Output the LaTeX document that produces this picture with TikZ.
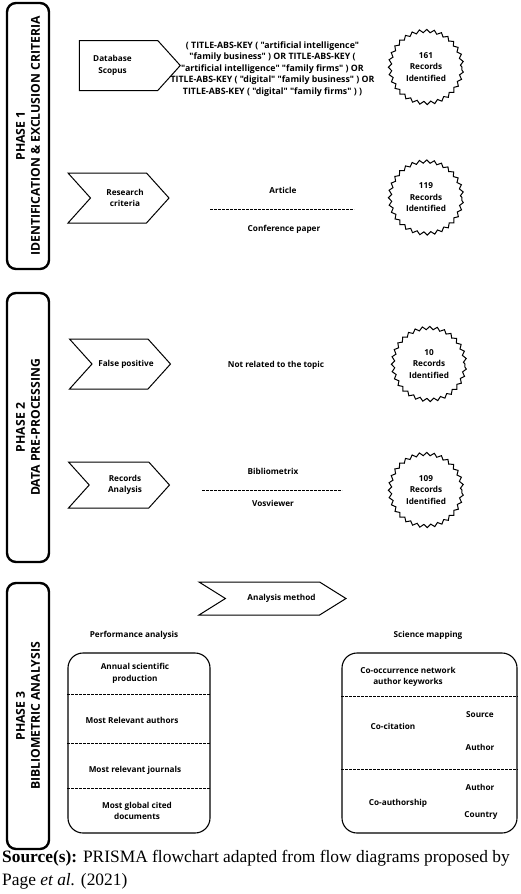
\documentclass[tikz,border=0pt]{standalone}
\usepackage{fontspec}
\setmainfont{Liberation Serif}
\newfontfamily\opensans{Open Sans}
\usetikzlibrary{shapes.symbols,decorations.pathmorphing}

\tikzset{
  lbl/.style={font=\opensans\bfseries\fontsize{8.2}{11.5}\selectfont, align=center, inner sep=0pt},
  phase/.style={draw, line width=2.4pt, rounded corners=9pt, rotate=90, minimum height=42pt,
    align=center, inner sep=0pt, font=\opensans\bfseries\fontsize{12.2}{15}\selectfont},
  tag/.style={lbl, draw, line width=1pt, signal, signal to=east, signal pointer angle=96,
    minimum height=50pt, minimum width=101pt},
  chev/.style={tag, signal from=west},
  burst/.style={lbl, draw, circle, line width=1pt, minimum size=72pt,
    decorate, decoration={zigzag, segment length=7.2pt, amplitude=1.6pt}},
  panel/.style={draw, line width=1.1pt, rounded corners=15pt, minimum height=180pt},
  sep/.style={line width=0.9pt, dash pattern=on 2.6pt off 1.4pt},
  srcnote/.style={anchor=base west, inner sep=0pt, font=\fontsize{17.4}{23}\selectfont}
}

\begin{document}
\begin{tikzpicture}[x=1pt,y=-1pt]
\useasboundingbox (0,0) rectangle (520,894);

% phase frames
\node[phase, minimum width=266pt] (ph1) at (28,136) {PHASE 1\\IDENTIFICATION \& EXCLUSION CRITERIA};
\node[phase, minimum width=269pt] (ph2) at (28,427.5) {PHASE 2\\DATA PRE-PROCESSING};
\node[phase, minimum width=266pt] (ph3) at (28,716) {PHASE 3\\BIBLIOMETRIC ANALYSIS};

% phase 1
\node[tag, label={[lbl,xshift=-6pt]center:{Database\\Scopus}}] (scopus) at (118.5,65.5) {};
\node[lbl, font=\opensans\bfseries\fontsize{8.8}{11.5}\selectfont] (query) at (272.5,69) {( TITLE-ABS-KEY ( "artificial intelligence"\\
  "family business" ) OR TITLE-ABS-KEY (\\
  "artificial intelligence" "family firms" ) OR\\
  TITLE-ABS-KEY ( "digital" "family business" ) OR\\
  TITLE-ABS-KEY ( "digital" "family firms" ) )};
\node[burst] (n161) at (426,67) {161\\Records\\Identified};

\node[chev, label={[lbl,xshift=6.5pt]center:{Research\\criteria}}] (crit) at (118.5,198) {};
\node[lbl] (art) at (283,190) {Article};
\coordinate (artL) at (210,209);
\coordinate (artR) at (354,209);
\draw[sep] (artL) -- (artR);
\node[lbl] (conf) at (284,229) {Conference paper};
\node[burst] (n119) at (426,197.5) {119\\Records\\Identified};

% phase 2
\node[chev, label={[lbl,xshift=6pt]center:{False positive}}] (fpos) at (120,364) {};
\node[lbl] (notrel) at (276,365) {Not related to the topic};
\node[burst] (n10) at (429,364) {10\\Records\\Identified};

\node[chev, minimum height=46pt, label={[lbl,xshift=6pt]center:{Records\\Analysis}}] (ranl) at (119,485) {};
\node[lbl] (biblio) at (273,471) {Bibliometrix};
\coordinate (toolL) at (202,490);
\coordinate (toolR) at (342,490);
\draw[sep] (toolL) -- (toolR);
\node[lbl] (vos) at (273,503) {Vosviewer};
\node[burst] (n109) at (426,490) {109\\Records\\Identified};

% phase 3
\node[chev, minimum height=33pt, minimum width=147pt, signal pointer angle=64,
  label={[lbl,xshift=9pt]center:{Analysis method}}] (meth) at (272.5,598.5) {};
\node[lbl] (perfT) at (134,635) {Performance analysis};
\node[lbl] (sciT) at (428,635) {Science mapping};

\node[panel, minimum width=142pt] (perf) at (139,743) {};
\foreach \yy in {694,743,788}
  \draw[sep] (perf.west |- 0,\yy) -- (perf.east |- 0,\yy);
\node[lbl] (annual) at (135,673.5) {Annual scientific\\production};
\node[lbl] (relauth) at (132,720) {Most Relevant authors};
\node[lbl] (reljour) at (135,770) {Most relevant journals};
\node[lbl] (glob) at (137,811) {Most global cited\\documents};

\node[panel, minimum width=175pt] (sci) at (429.5,743) {};
\foreach \yy in {696,769}
  \draw[sep] (sci.west |- 0,\yy) -- (sci.east |- 0,\yy);
\node[lbl] (cooc) at (408,677) {Co-occurrence network\\author keyworks};
\node[lbl] (cocit) at (393,726) {Co-citation};
\node[lbl] (srcN) at (480,715) {Source};
\node[lbl] (authA) at (480,747) {Author};
\node[lbl] (authB) at (480,787) {Author};
\node[lbl] (coauth) at (398,803) {Co-authorship};
\node[lbl] (country) at (481,816) {Country};

% caption
\node[srcnote] (capA) at (2,862) {\textbf{Source(s):} PRISMA flowchart adapted from flow diagrams proposed by};
\node[srcnote] (capB) at (2,885) {Page \textit{et al.} (2021)};
\end{tikzpicture}
\end{document}
